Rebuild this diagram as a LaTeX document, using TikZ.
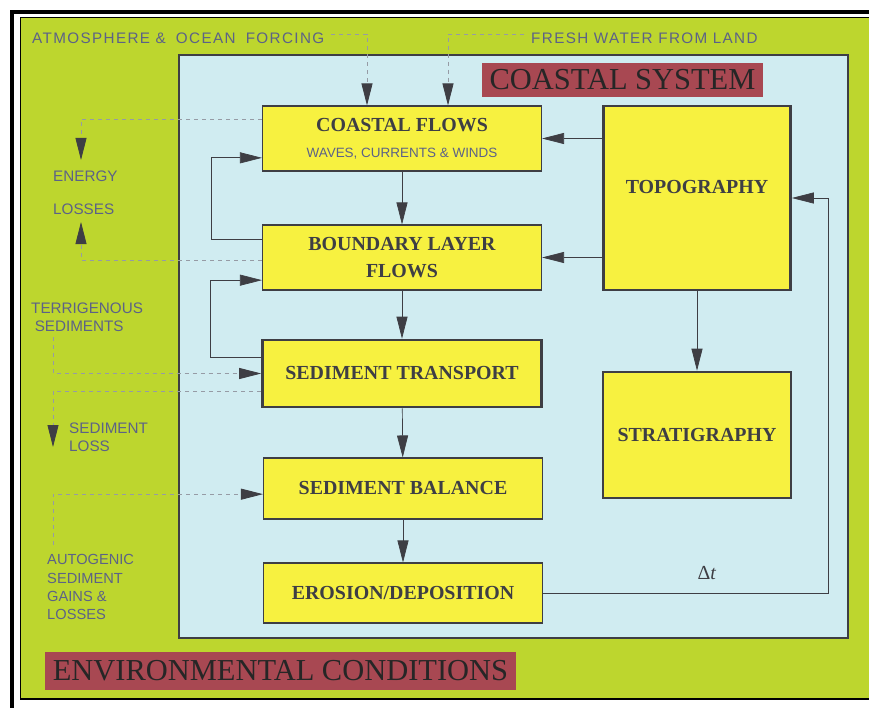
\documentclass[tikz,border=0pt]{standalone}
\usepackage{fontspec}
\setmainfont{Liberation Serif}
\newfontfamily\labelfont{Liberation Sans}
\newfontfamily\spacedfont{Liberation Sans}[LetterSpace=9]
\usetikzlibrary{arrows.meta,positioning,calc}
\definecolor{envGreen}{RGB}{189,214,46}
\definecolor{seaBlue}{RGB}{208,236,241}
\definecolor{boxYellow}{RGB}{247,241,64}
\definecolor{tagRed}{RGB}{168,72,82}
\definecolor{inkDark}{RGB}{62,62,68}
\definecolor{labelInk}{RGB}{92,98,135}
\definecolor{fluxGray}{RGB}{150,155,165}
\tikzset{
  process box/.style={draw=inkDark,fill=boxYellow,line width=0.9pt,align=center,text=inkDark,font=\bfseries\fontsize{17}{23}\selectfont,minimum width=8.37cm,inner sep=0pt},
  state box/.style={process box,line width=2.2pt},
  tag label/.style={fill=tagRed,text=black!85,font=\fontsize{26}{28}\selectfont,inner sep=0pt},
  side label/.style={text=labelInk,font=\labelfont\fontsize{13}{15.4}\selectfont,align=left,inner sep=0pt,anchor=west},
  top label/.style={text=labelInk,font=\spacedfont\fontsize{13}{15}\selectfont,inner sep=0pt,anchor=west},
  flow arrow/.style={-{Triangle[length=0.66cm,width=0.33cm]},draw=inkDark,line width=0.6pt},
  flux arrow/.style={-{Triangle[length=0.66cm,width=0.33cm,color=inkDark]},draw=fluxGray,line width=0.7pt,dash pattern=on 0.12cm off 0.12cm}
}
\begin{document}
\begin{tikzpicture}[x=0.03cm,y=-0.03cm]
  \useasboundingbox (0,0) rectangle (869,708);
  \fill[white] (0,0) rectangle (869,708);
  % frame and the two areas
  \draw[black,line width=3.4pt] (12,12) rectangle (900,740);
  \draw[black,line width=1.2pt,fill=envGreen] (20.5,17.5) rectangle (900,699);
  \draw[inkDark,line width=1.6pt,fill=seaBlue] (179,55) rectangle (848,638);
  \node[tag label,minimum width=8.43cm,minimum height=1.02cm] (coastal) at (622.5,80) {COASTAL SYSTEM};
  \node[tag label,minimum width=14.13cm,minimum height=1.14cm] (environ) at (280.5,671) {ENVIRONMENTAL CONDITIONS};
  % process chain
  \node[process box,minimum height=1.95cm] (cf) at (402,138.5) {COASTAL FLOWS\\[-1pt]{\labelfont\mdseries\fontsize{11.5}{12}\selectfont\color{labelInk}WAVES, CURRENTS \& WINDS}};
  \node[process box,minimum height=1.95cm] (bl) at (402,257.5) {BOUNDARY LAYER\\FLOWS};
  \node[state box,minimum height=2.01cm] (st) at (402,373.5) {SEDIMENT TRANSPORT};
  \node[process box,minimum height=1.83cm] (sb) at (403,488.5) {SEDIMENT BALANCE};
  \node[process box,minimum height=1.8cm] (ed) at (403,593) {EROSION/DEPOSITION};
  \node[state box,minimum width=5.61cm,minimum height=5.52cm] (topo) at (697,198) {\raisebox{0.33cm}[\height][\depth]{TOPOGRAPHY}};
  \node[state box,minimum width=5.64cm,minimum height=3.78cm] (strat) at (697,435) {STRATIGRAPHY};
  \node[text=inkDark,font=\fontsize{17}{18}\selectfont] (dt) at (707,573) {Δ\textit{t}};
  % forcing and loss labels
  \node[top label] (atmos) at (32,38) {ATMOSPHERE \&\hspace{0.3em} OCEAN\hspace{0.3em} FORCING};
  \node[top label] (fresh) at (531,38) {FRESH WATER FROM LAND};
  \node[side label] (energy) at (53,176) {ENERGY};
  \node[side label] (losses) at (53,209) {LOSSES};
  \node[side label] (terri) at (31,317) {TERRIGENOUS\\\hspace{3pt}SEDIMENTS};
  \node[side label] (sedloss) at (69,437) {SEDIMENT\\LOSS};
  \node[side label,font=\labelfont\fontsize{12.5}{15.4}\selectfont] (autogen) at (47,587) {AUTOGENIC\\SEDIMENT\\GAINS \&\\LOSSES};
  \coordinate (elossa) at (81,160);
  \coordinate (elossb) at (81,222);
  \coordinate (tsrc) at (53,337);
  \coordinate (slossa) at (53,447);
  \coordinate (asrc) at (53,545);
  \coordinate (dtturn) at (828,198);
  % connectors
  \draw[flow arrow] (cf) -- (bl);
  \draw[flow arrow] (bl) -- (st);
  \draw[flow arrow] (st) -- (sb);
  \draw[flow arrow] (sb) -- (ed);
  \draw[flow arrow] (topo.west |- cf.east) -- (cf.east);
  \draw[flow arrow] (topo.west |- bl.east) -- (bl.east);
  \draw[flow arrow] (topo) -- (strat);
  \draw[flow arrow] (ed.east) -| (dtturn) -- (topo.east);
  \draw[flow arrow] ([yshift=0.53cm]bl.west) -- ++(-51,0) |- ([yshift=-0.58cm]cf.west);
  \draw[flow arrow] ([yshift=0.47cm]st.west) -- ++(-51,0) |- ([yshift=-0.68cm]bl.west);
  % external fluxes
  \draw[flux arrow] ([xshift=0.2cm,yshift=0.12cm]atmos.east) -| ([xshift=-1.05cm]cf.north);
  \draw[flux arrow] ([xshift=-0.2cm,yshift=0.12cm]fresh.west) -| ([xshift=1.38cm]cf.north);
  \draw[flux arrow] ([yshift=0.585cm]cf.west) -| (elossa);
  \draw[flux arrow] ([yshift=-0.08cm]bl.west) -| (elossb);
  \draw[flux arrow] (tsrc) |- (st.west);
  \draw[flux arrow] ([yshift=-0.53cm]st.west) -| (slossa);
  \draw[flux arrow] (asrc) |- ([yshift=-0.17cm]sb.west);
\end{tikzpicture}
\end{document}
